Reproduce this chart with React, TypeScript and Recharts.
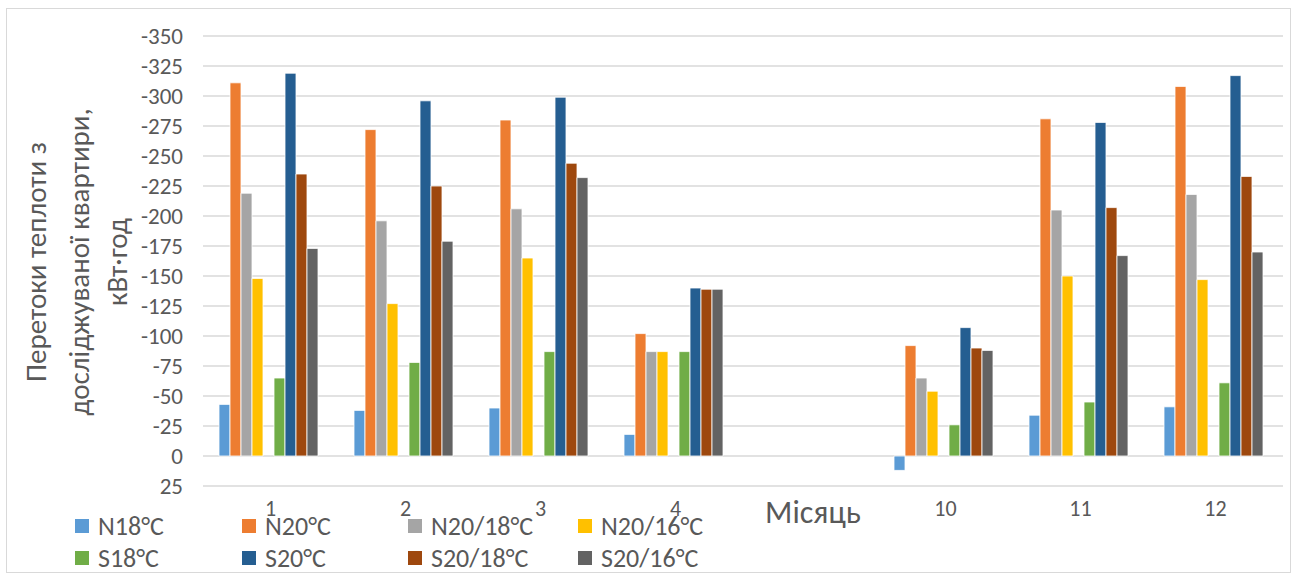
import { BarChart, Bar, XAxis, YAxis, CartesianGrid, Legend } from "recharts";

const months = ["1", "2", "3", "4", "", "10", "11", "12"];

const n18 = [-43, -38, -40, -18, null, 12, -34, -41];
const n20 = [-311, -272, -280, -102, null, -92, -281, -308];
const n20_18 = [-219, -196, -206, -87, null, -65, -205, -218];
const n20_16 = [-148, -127, -165, -87, null, -54, -150, -147];
const s18 = [-65, -78, -87, -87, null, -26, -45, -61];
const s20 = [-319, -296, -299, -140, null, -107, -278, -317];
const s20_18 = [-235, -225, -244, -139, null, -90, -207, -233];
const s20_16 = [-173, -179, -232, -139, null, -88, -167, -170];

const yTicks = [-350, -325, -300, -275, -250, -225, -200, -175, -150, -125, -100, -75, -50, -25, 0, 25];

const SERIES = [
  { name: "N18°C", color: "#5B9BD5", values: n18 },
  { name: "N20°C", color: "#ED7D31", values: n20 },
  { name: "N20/18°C", color: "#A5A5A5", values: n20_18 },
  { name: "N20/16°C", color: "#FFC000", values: n20_16 },
  { name: "S18°C", color: "#70AD47", values: s18 },
  { name: "S20°C", color: "#255E91", values: s20 },
  { name: "S20/18°C", color: "#9E480E", values: s20_18 },
  { name: "S20/16°C", color: "#636363", values: s20_16 },
];

const data = months.map((m, i) => {
  const row: Record<string, any> = { month: m };
  SERIES.forEach(s => { row[s.name] = s.values[i]; });
  return row;
});

const FONT = "Carlito, Calibri, Roboto, sans-serif";
const TEXT = "#595959";
const LEGEND_X = [75, 242, 408, 578];
const LEGEND_Y = [518, 550];

// legend is built from SERIES so the blank spacer bar and recharts' sorting stay out of it
function LegendBox() {
  return (
    <div style={{ position: "relative", width: 1293, height: 575 }}>
      {SERIES.map((s, i) => (
        <div key={s.name} style={{
          position: "absolute", left: LEGEND_X[i % 4], top: LEGEND_Y[Math.floor(i / 4)],
          display: "flex", alignItems: "center", height: 16, fontFamily: FONT, fontSize: 26, color: TEXT,
          whiteSpace: "nowrap",
        }}>
          <span style={{ display: "inline-block", width: 14, height: 14, background: s.color, marginRight: 9 }} />
          <span>{s.name}</span>
        </div>
      ))}
    </div>
  );
}

function YTitle() {
  const lines = ["Перетоки теплоти з", "досліджуваної квартири,", "кВт·год"];
  const xs = [36, 79, 117];
  return (
    <g>
      {lines.map((t, i) => (
        <text key={t} x={xs[i]} y={262} transform={`rotate(-90 ${xs[i]} 262)`} textAnchor="middle"
          dominantBaseline="central" fontFamily={FONT} fontSize={29} fill={TEXT}>{t}</text>
      ))}
    </g>
  );
}

function XTitle() {
  return (
    <text x={813} y={512} textAnchor="middle" dominantBaseline="central" fontFamily={FONT} fontSize={32} fill={TEXT}>
      Місяць
    </text>
  );
}

export default function App() {
  return (
    <div style={{ position: "absolute", left: 0, top: 0, width: 1293, height: 575, background: "#fff" }}>
      <div style={{ position: "absolute", left: 6, top: 8, width: 1283, height: 563, border: "1px solid #d9d9d9" }} />
      <BarChart width={1293} height={575} data={data} margin={{ top: 36, right: 10, bottom: 0, left: 0 }}
        barCategoryGap={16} barGap={0}>
        <CartesianGrid vertical={false} stroke="#d9d9d9" strokeWidth={1.3} />
        <XAxis dataKey="month" height={89} axisLine={false} tickLine={false} tickSize={0} tickMargin={14}
          tick={{ fontFamily: FONT, fontSize: 22, fill: TEXT }} interval={0} label={<XTitle />} />
        <YAxis width={203} reversed domain={[-350, 25]} ticks={yTicks} interval={0} axisLine={false} tickLine={false}
          tickSize={8} tickMargin={12} tick={{ fontFamily: FONT, fontSize: 23, fill: TEXT }} label={<YTitle />} />
        <Legend verticalAlign="middle" align="center" layout="horizontal" content={<LegendBox />}
          wrapperStyle={{ left: 0, top: 0, width: 1293, height: 575, pointerEvents: "none" }} />
        {SERIES.slice(0, 4).map(s => (
          <Bar key={s.name} dataKey={s.name} fill={s.color} stroke="#fff" strokeWidth={0.8} isAnimationActive={false} />
        ))}
        <Bar dataKey="gap" name=" " legendType="none" fill="none" isAnimationActive={false} />
        {SERIES.slice(4).map(s => (
          <Bar key={s.name} dataKey={s.name} fill={s.color} stroke="#fff" strokeWidth={0.8} isAnimationActive={false} />
        ))}
      </BarChart>
    </div>
  );
}
